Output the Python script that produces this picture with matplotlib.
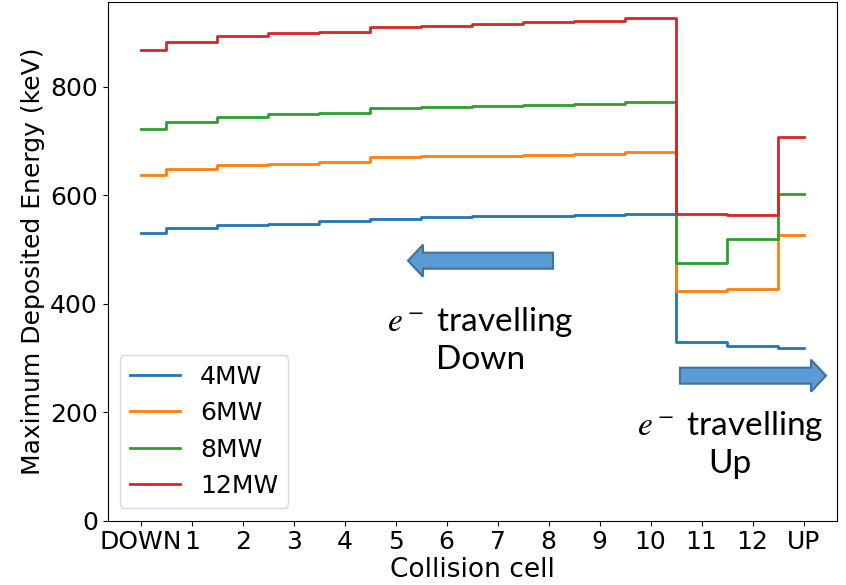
import matplotlib
matplotlib.use("Agg")
import matplotlib.pyplot as plt
from matplotlib.patches import FancyArrow
import numpy as np

# collision cells from DOWN to UP
cells = ["DOWN", "1", "2", "3", "4", "5", "6", "7", "8", "9", "10", "11", "12", "UP"]

# maximum deposited energy (keV) per cell
e_4mw = [531, 539, 545, 547, 552, 557, 560, 562, 561, 563, 565, 329, 322, 318]
e_6mw = [637, 649, 655, 658, 661, 671, 672, 673, 675, 676, 679, 423, 427, 527]
e_8mw = [723, 736, 744, 749, 752, 760, 762, 765, 767, 769, 772, 475, 520, 603]
e_12mw = [867, 882, 894, 899, 901, 910, 913, 916, 919, 921, 926, 565, 564, 708]

series = {"4MW": e_4mw, "6MW": e_6mw, "8MW": e_8mw, "12MW": e_12mw}

plt.rcParams["font.family"] = ["DejaVu Sans"]
plt.rcParams["mathtext.fontset"] = "stix"

fig = plt.figure(figsize=(8.46, 5.85), dpi=100)
ax = fig.add_axes([0.1273, 0.110, 0.8617, 0.8866])

x = np.arange(len(cells))
for name, vals in series.items():
    ax.plot(x, vals, drawstyle="steps-mid", lw=2, label=name)

ax.set_ylim(bottom=0)
ax.set_xticks(x)
ax.set_xticklabels(cells)
ax.tick_params(labelsize=18)
ax.set_xlabel("Collision cell", fontsize=19, labelpad=2)
ax.set_ylabel("Maximum Deposited Energy (keV)", fontsize=18, labelpad=4)
ax.legend(loc="lower left", fontsize=18)

# direction annotations
ax.text(6.66, 334, "$e^-$ travelling\nDown", fontsize=24, family="Lato",
        ha="center", va="center", linespacing=1.25)
ax.text(11.55, 141, "$e^-$ travelling\nUp", fontsize=24, family="Lato",
        ha="center", va="center", linespacing=1.25)

arrow_kw = dict(width=0.16, head_width=0.32, head_length=0.15,
                length_includes_head=True, fc="#5B9BD5", ec="#41719C", lw=1.5,
                transform=fig.dpi_scale_trans)
fig.add_artist(FancyArrow(5.53, 5.85 - 2.607, -1.45, 0, **arrow_kw))
fig.add_artist(FancyArrow(6.80, 5.85 - 3.757, 1.46, 0, **arrow_kw))

fig.savefig("out.png", dpi=100)
